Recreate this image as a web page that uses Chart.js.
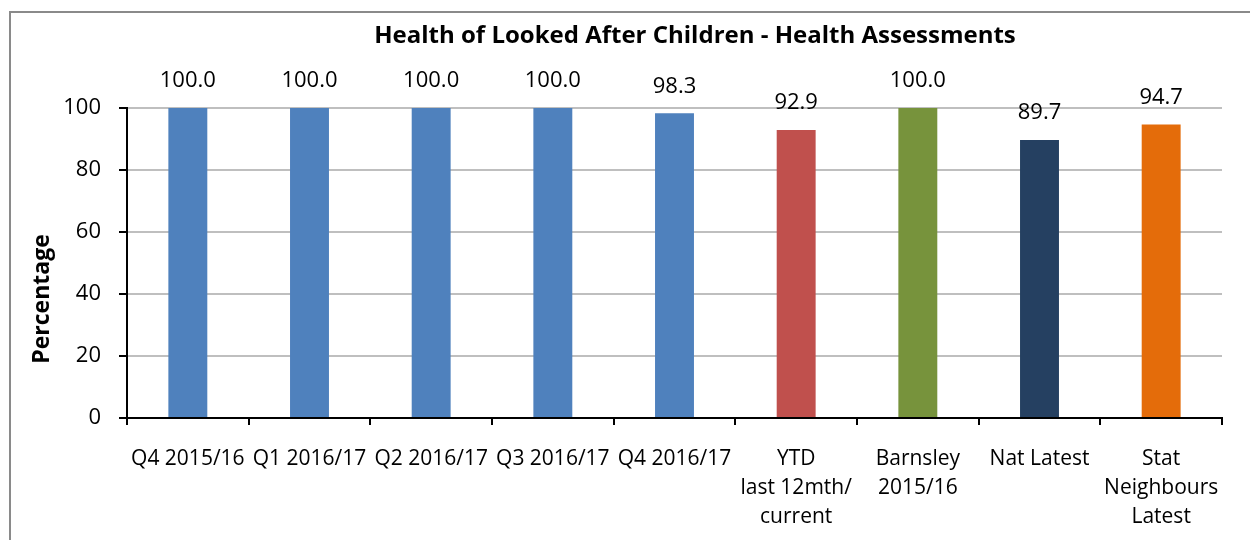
<!DOCTYPE html>
<html>
<head>
<meta charset="utf-8">
<script src="https://cdn.jsdelivr.net/npm/chart.js@4/dist/chart.umd.min.js"></script>
<style>
  html, body { margin: 0; padding: 0; background: #fff; overflow: hidden; }
  #wrap { position: relative; width: 1250px; height: 540px; }
  #frame { position: absolute; left: 9px; top: 11px; width: 1300px; height: 600px;
           border: 2px solid #8a8a8a; pointer-events: none; box-sizing: border-box; }
  canvas { position: absolute; left: 0; top: 0; }
</style>
</head>
<body>
<div id="wrap">
  <canvas id="c" width="1250" height="540"></canvas>
  <div id="frame"></div>
</div>
<script>
const chartTitle = "Health of Looked After Children - Health Assessments";
const yAxisTitle = "Percentage";
const categories = [
  "Q4 2015/16",
  "Q1 2016/17",
  "Q2 2016/17",
  "Q3 2016/17",
  "Q4 2016/17",
  ["YTD", "last 12mth/", "current"],
  ["Barnsley", "2015/16"],
  "Nat Latest",
  ["Stat", "Neighbours", "Latest"]
];
const values = [100.0, 100.0, 100.0, 100.0, 98.3, 92.9, 100.0, 89.7, 94.7];
const barColors = ["#4F81BD", "#4F81BD", "#4F81BD", "#4F81BD", "#4F81BD",
                   "#C0504D", "#77933C", "#254061", "#E46C0A"];
const yTicks = [0, 20, 40, 60, 80, 100];

const FONT = "'Open Sans', 'Noto Sans', sans-serif";

const valueLabels = {
  id: "valueLabels",
  afterDatasetsDraw(chart) {
    const ctx = chart.ctx;
    const meta = chart.getDatasetMeta(0);
    ctx.save();
    ctx.font = "22px " + FONT;
    ctx.fillStyle = "#000";
    ctx.textAlign = "center";
    ctx.textBaseline = "middle";
    meta.data.forEach((bar, i) => {
      ctx.fillText(values[i].toFixed(1), bar.x, bar.y - 27);
    });
    ctx.restore();
  }
};

const titles = {
  id: "titles",
  afterDraw(chart) {
    const ctx = chart.ctx;
    ctx.save();
    ctx.fillStyle = "#000";
    ctx.textAlign = "center";
    ctx.textBaseline = "middle";
    ctx.font = "bold 24px " + FONT;
    ctx.fillText(chartTitle, 695, 36);
    ctx.translate(42, 299);
    ctx.rotate(-Math.PI / 2);
    ctx.font = "bold 23px " + FONT;
    ctx.fillText(yAxisTitle, 0, 0);
    ctx.restore();
  }
};

new Chart(document.getElementById("c"), {
  type: "bar",
  data: {
    labels: categories,
    datasets: [{
      data: values,
      backgroundColor: barColors,
      borderWidth: 0,
      barPercentage: 0.32,
      categoryPercentage: 1.0
    }]
  },
  options: {
    responsive: false,
    animation: false,
    devicePixelRatio: 1,
    layout: { padding: { left: 0, right: 28, top: 108, bottom: 0 } },
    plugins: {
      legend: { display: false },
      tooltip: { enabled: false },
      title: { display: false }
    },
    scales: {
      y: {
        min: 0, max: 100,
        afterFit(scale) { scale.width = 127; },
        afterBuildTicks(scale) { scale.ticks = yTicks.map(v => ({ value: v })); },
        ticks: {
          color: "#000",
          font: { family: FONT, size: 22 },
          padding: 18
        },
        grid: {
          color: "#BFBFBF",
          lineWidth: 2,
          tickColor: "#000",
          tickLength: 8,
          drawTicks: true
        },
        border: { color: "#000", width: 2 },
        title: { display: false }
      },
      x: {
        afterFit(scale) { scale.height = 122; },
        ticks: {
          color: "#000",
          font: { family: FONT, size: 21, lineHeight: 1.38 },
          maxRotation: 0,
          autoSkip: false,
          padding: 20
        },
        grid: {
          offset: true,
          drawOnChartArea: false,
          drawTicks: true,
          tickLength: 7,
          tickColor: "#000",
          lineWidth: 2
        },
        border: { color: "#000", width: 2 }
      }
    }
  },
  plugins: [valueLabels, titles]
});
</script>
</body>
</html>
